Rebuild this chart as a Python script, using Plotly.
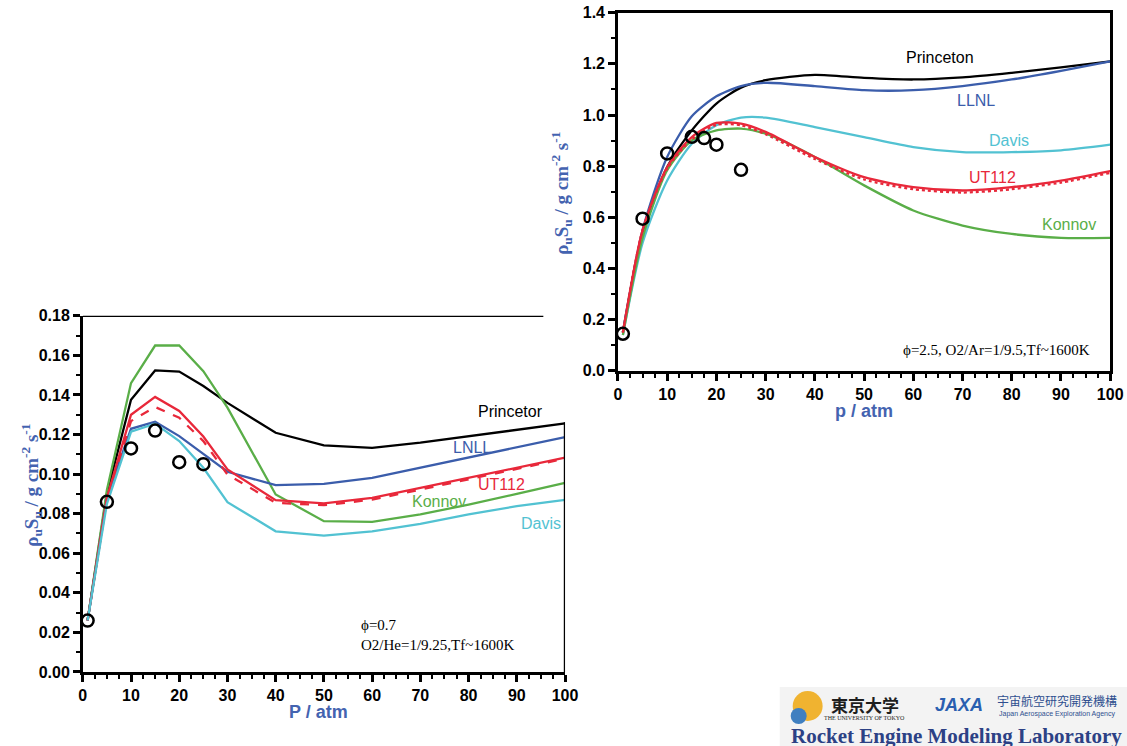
import plotly.graph_objects as go

# ---------------- data ----------------
p_sim = [1, 5, 10, 15, 20, 25, 30, 40, 50, 60, 70, 80, 90, 100]

# left chart: phi=0.7, O2/He
left_princeton = [0.026, 0.090, 0.1376, 0.1524, 0.1518, 0.1445, 0.136, 0.1209, 0.1145, 0.1133, 0.1159, 0.1192, 0.1226, 0.1256]
left_llnl = [0.026, 0.088, 0.1229, 0.1265, 0.1192, 0.110, 0.1012, 0.0944, 0.0951, 0.0981, 0.1032, 0.1083, 0.1133, 0.1187]
left_davis = [0.026, 0.085, 0.1214, 0.1255, 0.1167, 0.1032, 0.0858, 0.0711, 0.0689, 0.0711, 0.0748, 0.0796, 0.0838, 0.087]
left_ut112 = [0.026, 0.088, 0.130, 0.139, 0.1319, 0.119, 0.1024, 0.0868, 0.0852, 0.088, 0.0931, 0.0981, 0.1032, 0.1083]
left_ut112_dash = [0.026, 0.087, 0.1268, 0.1339, 0.1285, 0.1167, 0.0998, 0.0855, 0.0843, 0.0871, 0.0922, 0.0973, 0.1027, 0.1078]
left_konnov = [0.026, 0.092, 0.146, 0.165, 0.165, 0.152, 0.1336, 0.0897, 0.0762, 0.0759, 0.0796, 0.0846, 0.090, 0.0956]
left_exp_p = [1, 5, 10, 15, 20, 25]
left_exp_val = [0.026, 0.086, 0.113, 0.122, 0.106, 0.105]

# right chart: phi=2.5, O2/Ar
right_princeton = [0.15, 0.54, 0.797, 0.94, 1.045, 1.107, 1.136, 1.157, 1.145, 1.139, 1.147, 1.165, 1.186, 1.21]
right_llnl = [0.15, 0.55, 0.836, 0.995, 1.073, 1.113, 1.126, 1.113, 1.097, 1.097, 1.113, 1.139, 1.173, 1.21]
right_davis = [0.14, 0.50, 0.744, 0.888, 0.96, 0.99, 0.99, 0.953, 0.914, 0.875, 0.855, 0.855, 0.862, 0.884]
right_ut112 = [0.15, 0.55, 0.797, 0.914, 0.969, 0.966, 0.934, 0.836, 0.757, 0.718, 0.705, 0.718, 0.744, 0.781]
right_ut112_dash = [0.15, 0.55, 0.79, 0.905, 0.962, 0.96, 0.925, 0.828, 0.748, 0.71, 0.697, 0.71, 0.736, 0.774]
right_konnov = [0.14, 0.52, 0.784, 0.901, 0.94, 0.947, 0.927, 0.836, 0.725, 0.627, 0.568, 0.535, 0.52, 0.52]
right_exp_p = [1, 5, 10, 15, 17.5, 20, 25]
right_exp_val = [0.145, 0.595, 0.85, 0.915, 0.91, 0.884, 0.786]

x_ticks = [0, 10, 20, 30, 40, 50, 60, 70, 80, 90, 100]

# ---------------- styles ----------------
C_BLACK = "#000000"
C_BLUE = "#3b5dab"
C_CYAN = "#52c2d2"
C_RED = "#e8283a"
C_GREEN = "#5aae48"
C_TITLE = "#4463b0"
LW = 2.3

fig = go.Figure()


def add_lines(xa, ya, series, shape):
    for vals, col, dash in series:
        fig.add_trace(go.Scatter(
            x=p_sim, y=vals, mode="lines", xaxis=xa, yaxis=ya,
            line=dict(color=col, width=LW, dash=dash, shape=shape, smoothing=0.7),
            showlegend=False, hoverinfo="skip"))


add_lines("x", "y", [
    (left_princeton, C_BLACK, "solid"),
    (left_konnov, C_GREEN, "solid"),
    (left_llnl, C_BLUE, "solid"),
    (left_ut112, C_RED, "solid"),
    (left_ut112_dash, C_RED, "dash"),
    (left_davis, C_CYAN, "solid"),
], "linear")

add_lines("x2", "y2", [
    (right_princeton, C_BLACK, "solid"),
    (right_llnl, C_BLUE, "solid"),
    (right_davis, C_CYAN, "solid"),
    (right_konnov, C_GREEN, "solid"),
    (right_ut112, C_RED, "solid"),
    (right_ut112_dash, C_RED, "dot"),
], "spline")

fig.add_trace(go.Scatter(x=left_exp_p, y=left_exp_val, mode="markers", xaxis="x", yaxis="y",
                         marker=dict(symbol="circle-open", size=12, color=C_BLACK, line=dict(width=2.5)),
                         showlegend=False, hoverinfo="skip"))
fig.add_trace(go.Scatter(x=right_exp_p, y=right_exp_val, mode="markers", xaxis="x2", yaxis="y2",
                         marker=dict(symbol="circle-open", size=12, color=C_BLACK, line=dict(width=2.5)),
                         showlegend=False, hoverinfo="skip"))

W, H = 1127, 746
# effective drawing area observed in the viewer (offset + size)
OX, OY, EW, EH = 3.1, 7.3, 1111.7, 728.7


def px(x):
    return (x - OX) / EW


def py(y):
    return 1 - (y - OY) / EH


def dom_x(a, b):
    return [max(0, px(a)), min(1, px(b))]


def dom_y(top, bottom):
    return [max(0, py(bottom)), min(1, py(top))]


tickfont = dict(family="Liberation Sans, Arial", size=16, color="black", weight="bold")
axis_common = dict(showgrid=False, zeroline=False, showline=True, linecolor="black", linewidth=2.5,
                   ticks="outside", tickcolor="black", tickwidth=2.5, ticklen=7, tickfont=tickfont)
minor_x = dict(dtick=2.5, ticks="outside", ticklen=4, tickwidth=2, tickcolor="black")

fig.update_layout(
    width=W, height=H, autosize=False, margin=dict(l=0, r=0, t=0, b=0, pad=0),
    paper_bgcolor="white", plot_bgcolor="rgba(0,0,0,0)", showlegend=False,
    xaxis=dict(domain=dom_x(82, 565), range=[0, 100], anchor="y", tickvals=x_ticks,
               minor=minor_x, **axis_common),
    yaxis=dict(domain=dom_y(315, 671), range=[0, 0.18], anchor="x", dtick=0.02, tickformat=".2f",
               minor=dict(dtick=0.01, ticks="outside", ticklen=4, tickwidth=2, tickcolor="black"),
               **axis_common),
    xaxis2=dict(domain=dom_x(618, 1111), range=[0, 100], anchor="y2", tickvals=x_ticks, mirror=True,
                minor=minor_x, **axis_common),
    yaxis2=dict(domain=dom_y(12, 370), range=[0, 1.4], anchor="x2", dtick=0.2, tickformat=".1f", mirror=True,
                minor=dict(dtick=0.1, ticks="outside", ticklen=4, tickwidth=2, tickcolor="black"),
                **axis_common),
)

# partial frame of the left chart (top-right corner hidden behind the right chart)
fig.add_shape(type="line", xref="x", yref="y", x0=0, x1=95.5, y0=0.18, y1=0.18,
              line=dict(color="black", width=2.5))
fig.add_shape(type="line", xref="x", yref="y", x0=100, x1=100, y0=0, y1=0.1262,
              line=dict(color="black", width=2.5))

# series labels
lab_font = "Liberation Sans, Arial"
for txt, xa, ya, x, y, col in [
    ("Princetor", "x", "y", 88.6, 0.1318, C_BLACK),
    ("LNLL", "x", "y", 80.7, 0.1133, C_BLUE),
    ("UT112", "x", "y", 86.8, 0.0948, C_RED),
    ("Konnov", "x", "y", 73.8, 0.0860, C_GREEN),
    ("Davis", "x", "y", 95.0, 0.0749, C_CYAN),
    ("Princeton", "x2", "y2", 65.4, 1.225, C_BLACK),
    ("LLNL", "x2", "y2", 72.8, 1.055, C_BLUE),
    ("Davis", "x2", "y2", 79.5, 0.901, C_CYAN),
    ("UT112", "x2", "y2", 76.0, 0.755, C_RED),
    ("Konnov", "x2", "y2", 91.6, 0.572, C_GREEN),
]:
    fig.add_annotation(x=x, y=y, xref=xa, yref=ya, text=txt, showarrow=False,
                       xanchor="center", yanchor="middle",
                       font=dict(family=lab_font, size=16, color=col))

# condition notes
note_font = dict(family="Liberation Serif, Times New Roman", size=15, color="black")
fig.add_annotation(x=57.2, y=0.0085, xref="x", yref="y", xanchor="left", yanchor="bottom", align="left",
                   text="ϕ=0.7<br>O2/He=1/9.25,Tf~1600K", showarrow=False, font=note_font)
fig.add_annotation(x=57.5, y=0.083, xref="x2", yref="y2", xanchor="left", yanchor="middle",
                   text="ϕ=2.5, O2/Ar=1/9.5,Tf~1600K", showarrow=False, font=note_font)

# axis titles
ytitle = "ρ<sub>u</sub>S<sub>u</sub> / g cm<sup>-2</sup> s<sup>-1</sup>"
yt_font = dict(family="Liberation Serif, Times New Roman", size=19, color=C_TITLE, weight="bold")
fig.add_annotation(x=px(31), y=py(484), xref="paper", yref="paper", text=ytitle, textangle=-90,
                   xanchor="center", yanchor="middle", showarrow=False, font=yt_font)
fig.add_annotation(x=px(562), y=py(193), xref="paper", yref="paper", text=ytitle, textangle=-90,
                   xanchor="center", yanchor="middle", showarrow=False, font=yt_font)
xt_font = dict(family="Liberation Sans, Arial", size=18, color=C_TITLE, weight="bold")
fig.add_annotation(x=px(318), y=py(711), xref="paper", yref="paper", text="P / atm",
                   xanchor="center", yanchor="middle", showarrow=False, font=xt_font)
fig.add_annotation(x=px(864), y=py(410), xref="paper", yref="paper", text="p / atm",
                   xanchor="center", yanchor="middle", showarrow=False, font=xt_font)

# logo banner (bottom right)
fig.add_shape(type="rect", xref="paper", yref="paper", x0=px(780), x1=px(1140), y0=py(760), y1=py(686),
              fillcolor="#f3f3f3", line=dict(width=0), layer="below")
fig.add_shape(type="circle", xref="paper", yref="paper", x0=px(793), x1=px(823),
              y0=py(720), y1=py(690), fillcolor="#f0b330", line=dict(width=0))
fig.add_shape(type="circle", xref="paper", yref="paper", x0=px(791), x1=px(807),
              y0=py(723), y1=py(707), fillcolor="#3f7fc0", line=dict(width=0))


def logo_text(x, y, text, family, size, color, anchor="center"):
    fig.add_annotation(x=px(x), y=py(y), xref="paper", yref="paper", text=text, showarrow=False,
                       xanchor=anchor, yanchor="middle", font=dict(family=family, size=size, color=color))


logo_text(865, 704, "<b>東京大学</b>", "Noto Sans CJK JP", 17, "#1e1e1e")
logo_text(865, 717, "THE UNIVERSITY OF TOKYO", "Liberation Serif", 6, "#1e1e1e")
logo_text(960, 704, "<b><i>JAXA</i></b>", "Liberation Sans", 18, "#2a5fb0")
logo_text(1058, 700, "宇宙航空研究開発機構", "Noto Sans CJK JP", 12, "#2f4f8f")
logo_text(1058, 713, "Japan Aerospace Exploration Agency", "Liberation Sans", 7, "#2f4f8f")
logo_text(789, 735, "<b>Rocket Engine Modeling Laboratory</b>", "Liberation Serif, Times New Roman", 21,
          "#2c4185", anchor="left")

fig.write_html("out.html", config={"responsive": False})
